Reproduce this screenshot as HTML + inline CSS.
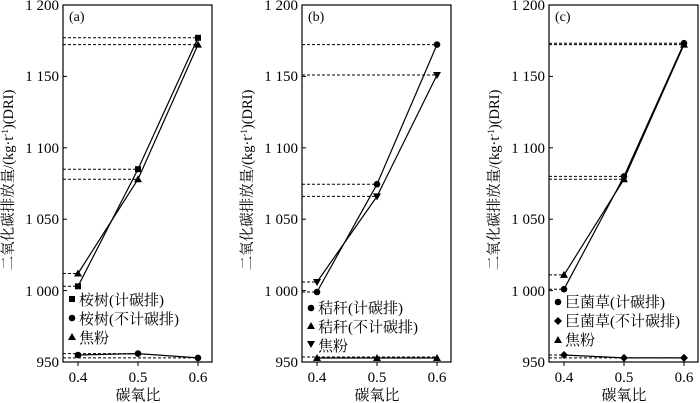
<!DOCTYPE html>
<html><head><meta charset="utf-8"><style>
body{margin:0;background:#fff}
svg{display:block;font-family:"Liberation Serif","Noto Serif CJK SC","Noto Sans CJK SC",serif}
</style></head><body>
<svg width="700" height="403" viewBox="0 0 700 403" xmlns="http://www.w3.org/2000/svg">
<defs>
<g id="axes">
<rect x="0" y="5" width="149" height="357" fill="none" stroke="#000" stroke-width="1.2"/>
<g stroke="#000" stroke-width="1">
<line x1="0" y1="76.4" x2="4" y2="76.4"/><line x1="0" y1="147.8" x2="4" y2="147.8"/><line x1="0" y1="219.2" x2="4" y2="219.2"/><line x1="0" y1="290.6" x2="4" y2="290.6"/>
<line x1="15" y1="362" x2="15" y2="366"/><line x1="75" y1="362" x2="75" y2="366"/><line x1="135" y1="362" x2="135" y2="366"/>
</g>
<g font-size="15" text-anchor="end" fill="#000">
<text x="-4" y="10">1 200</text><text x="-4" y="81">1 150</text><text x="-4" y="153">1 100</text><text x="-4" y="224">1 050</text><text x="-4" y="296">1 000</text><text x="-4" y="367">950</text>
</g>
<g font-size="15" text-anchor="middle"><text x="15" y="382">0.4</text><text x="75" y="382">0.5</text><text x="135" y="382">0.6</text>
<text x="75" y="400">碳氧比</text></g>
<text transform="translate(-50,180) rotate(-90)" font-size="14.5" text-anchor="middle">二氧化碳排放量/(kg·t<tspan dy="-5" font-size="9">-1</tspan><tspan dy="5">)(DRI)</tspan></text>
</g>
</defs>

<g transform="translate(63,0)">
<use href="#axes"/>
<text x="6" y="21" font-size="14">(a)</text>
<g stroke="#000" stroke-dasharray="3,2" stroke-width="1">
<line x1="0" y1="37.8" x2="135" y2="37.8"/><line x1="0" y1="44.6" x2="135" y2="44.6"/>
<line x1="0" y1="169.2" x2="75" y2="169.2"/><line x1="0" y1="179.2" x2="75" y2="179.2"/>
<line x1="0" y1="273.5" x2="15" y2="273.5"/><line x1="0" y1="286.3" x2="15" y2="286.3"/>
<line x1="0" y1="353.6" x2="75" y2="353.6"/><line x1="0" y1="357.9" x2="135" y2="357.9"/>
</g>
<g fill="none" stroke="#000" stroke-width="1.2">
<polyline points="15,286.3 75,169.2 135,37.8"/>
<polyline points="15,273.5 75,179.2 135,44.6"/>
<polyline points="15,355 75,353.6 135,357.9"/>
</g>
<g fill="#000">
<rect x="12" y="283.3" width="6" height="6"/><rect x="72" y="166.2" width="6" height="6"/><rect x="132" y="34.8" width="6" height="6"/>
<polygon points="15,269.5 19,276.5 11,276.5"/><polygon points="75,175.2 79,182.2 71,182.2"/><polygon points="135,40.6 139,47.6 131,47.6"/>
<circle cx="15" cy="355" r="3.3"/><circle cx="75" cy="353.6" r="3.3"/><circle cx="135" cy="357.9" r="3.3"/>
<rect x="6" y="296" width="6" height="6"/><circle cx="9" cy="318" r="3.3"/><polygon points="9,333 13,340 5,340"/>
</g>
<g font-size="15"><text x="16" y="305">桉树(计碳排)</text><text x="16" y="324">桉树(不计碳排)</text><text x="16" y="343">焦粉</text></g>
</g>

<g transform="translate(302,0)">
<use href="#axes"/>
<text x="6" y="21" font-size="14">(b)</text>
<g stroke="#000" stroke-dasharray="3,2" stroke-width="1">
<line x1="0" y1="44.6" x2="135" y2="44.6"/><line x1="0" y1="75" x2="135" y2="75"/>
<line x1="0" y1="184.2" x2="75" y2="184.2"/><line x1="0" y1="196.4" x2="75" y2="196.4"/>
<line x1="0" y1="282" x2="15" y2="282"/><line x1="0" y1="292" x2="15" y2="292"/>
<line x1="0" y1="357" x2="135" y2="357"/>
</g>
<g fill="none" stroke="#000" stroke-width="1.2">
<polyline points="15,292 75,184.2 135,44.6"/>
<polyline points="15,282 75,196.4 135,75"/>
<polyline points="15,358 75,358 135,358"/>
</g>
<g fill="#000">
<circle cx="15" cy="292" r="3.3"/><circle cx="75" cy="184.2" r="3.3"/><circle cx="135" cy="44.6" r="3.3"/>
<polygon points="15,286 19,279 11,279"/><polygon points="75,200.4 79,193.4 71,193.4"/><polygon points="135,79 139,72 131,72"/>
<polygon points="15,354 19,361 11,361"/><polygon points="75,354 79,361 71,361"/><polygon points="135,354 139,361 131,361"/>
<circle cx="9" cy="308" r="3.3"/><polygon points="9,322 13,329 5,329"/><polygon points="9,348 13,341 5,341"/>
</g>
<g font-size="15"><text x="16" y="313">秸秆(计碳排)</text><text x="16" y="332">秸秆(不计碳排)</text><text x="16" y="351">焦粉</text></g>
</g>

<g transform="translate(549,0)">
<use href="#axes"/>
<text x="6" y="21" font-size="14">(c)</text>
<g stroke="#000" stroke-dasharray="3,2" stroke-width="1">
<line x1="0" y1="43.2" x2="135" y2="43.2"/><line x1="0" y1="44.6" x2="135" y2="44.6"/>
<line x1="0" y1="176.4" x2="75" y2="176.4"/><line x1="0" y1="179.2" x2="75" y2="179.2"/>
<line x1="0" y1="274.9" x2="15" y2="274.9"/><line x1="0" y1="289.2" x2="15" y2="289.2"/>
<line x1="0" y1="355" x2="15" y2="355"/><line x1="0" y1="357.9" x2="135" y2="357.9"/>
</g>
<g fill="none" stroke="#000" stroke-width="1.2">
<polyline points="15,289.2 75,176.4 135,43.2"/>
<polyline points="15,274.9 75,179.2 135,44.6"/>
<polyline points="15,355 75,357.9 135,357.9"/>
</g>
<g fill="#000">
<circle cx="15" cy="289.2" r="3.3"/><circle cx="75" cy="176.4" r="3.3"/><circle cx="135" cy="43.2" r="3.3"/>
<polygon points="15,270.9 19,277.9 11,277.9"/><polygon points="75,175.2 79,182.2 71,182.2"/><polygon points="135,40.6 139,47.6 131,47.6"/>
<polygon points="15,351 19,355 15,359 11,355"/><polygon points="75,353.9 79,357.9 75,361.9 71,357.9"/><polygon points="135,353.9 139,357.9 135,361.9 131,357.9"/>
<circle cx="9" cy="302" r="3.3"/><polygon points="9,317 13,321 9,325 5,321"/><polygon points="9,336 13,343 5,343"/>
</g>
<g font-size="15"><text x="16" y="307">巨菌草(计碳排)</text><text x="16" y="326">巨菌草(不计碳排)</text><text x="16" y="345">焦粉</text></g>
</g>
</svg>
</body></html>
